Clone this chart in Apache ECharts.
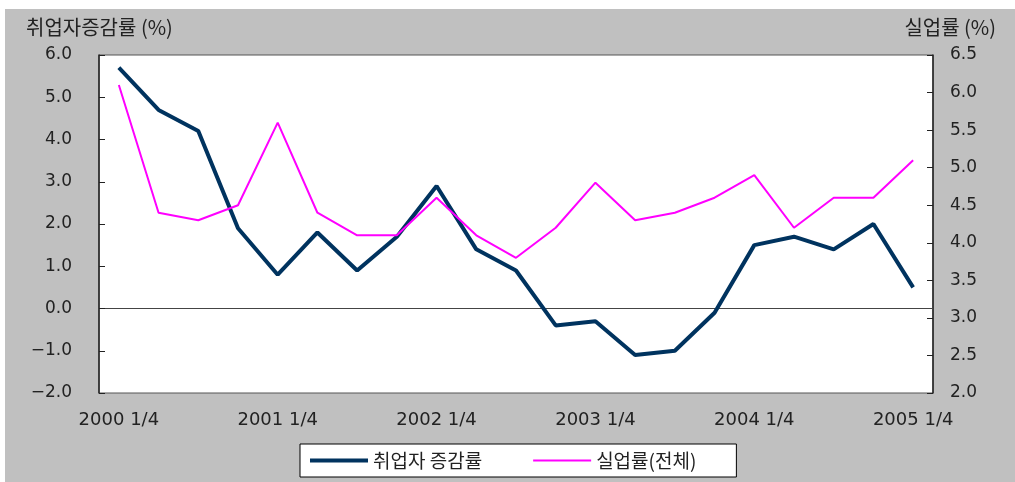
<!DOCTYPE html>
<html>
<head>
<meta charset="utf-8">
<script src="https://cdn.jsdelivr.net/npm/echarts@6/dist/echarts.min.js"></script>
<style>
html,body{margin:0;padding:0;background:#fff;}
#c{position:absolute;left:5px;top:9px;width:1010px;height:473px;}
</style>
</head>
<body>
<div id="c"></div>
<script>
const categories = [
  '2000 1/4','2000 2/4','2000 3/4','2000 4/4',
  '2001 1/4','2001 2/4','2001 3/4','2001 4/4',
  '2002 1/4','2002 2/4','2002 3/4','2002 4/4',
  '2003 1/4','2003 2/4','2003 3/4','2003 4/4',
  '2004 1/4','2004 2/4','2004 3/4','2004 4/4',
  '2005 1/4'
];
const employmentGrowth = [5.7, 4.7, 4.2, 1.9, 0.8, 1.8, 0.9, 1.7, 2.9, 1.4, 0.9, -0.4, -0.3, -1.1, -1.0, -0.1, 1.5, 1.7, 1.4, 2.0, 0.5];
const unemploymentRate = [6.1, 4.4, 4.3, 4.5, 5.6, 4.4, 4.1, 4.1, 4.6, 4.1, 3.8, 4.2, 4.8, 4.3, 4.4, 4.6, 4.9, 4.2, 4.6, 4.6, 5.1];
const seriesNames = ['취업자 증감률', '실업률(전체)'];
const leftTitle = '취업자증감률 (%)';
const rightTitle = '실업률 (%)';

const chart = echarts.init(document.getElementById('c'));
const numFont = '"DejaVu Sans", sans-serif';
const krFont = '"Noto Sans CJK KR", sans-serif';
const fmt = v => (v < 0 ? '\u2212' + Math.abs(v).toFixed(1) : v.toFixed(1));
const navy = '#00335f';
const magenta = '#ff00ff';

chart.setOption({
  backgroundColor: '#c0c0c0',
  animation: false,
  title: [
    {text: leftTitle, left: 16, top: 3, textStyle: {fontFamily: krFont, fontSize: 20, fontWeight: 'normal', color: '#222'}},
    {text: rightTitle, right: 14, top: 3, textStyle: {fontFamily: krFont, fontSize: 20, fontWeight: 'normal', color: '#222'}}
  ],
  grid: {left: 94, top: 46, width: 834, height: 338, show: true, backgroundColor: '#fff', borderColor: '#555', borderWidth: 1},
  legend: {
    left: 295, top: 435,
    backgroundColor: '#fff', borderColor: '#000', borderWidth: 1,
    padding: [7, 40, 7, 8],
    itemWidth: 58, itemHeight: 14, itemGap: 50,
    itemStyle: {opacity: 0},
    textStyle: {fontFamily: krFont, fontSize: 19, color: '#222'},
    data: [
      {name: seriesNames[0], lineStyle: {width: 4, color: navy}},
      {name: seriesNames[1], lineStyle: {width: 2, color: magenta}}
    ]
  },
  xAxis: [
    {
      type: 'category', data: categories, boundaryGap: true,
      axisLine: {onZero: true, onZeroAxisIndex: 0, lineStyle: {color: '#444', width: 1}},
      axisTick: {inside: true, length: 6, interval: 0, lineStyle: {color: '#444'}},
      axisLabel: {show: false},
      splitLine: {show: false}
    },
    {
      type: 'category', data: categories, boundaryGap: true, position: 'bottom',
      axisLine: {show: false, onZero: false},
      axisTick: {show: false},
      axisLabel: {interval: 3, margin: 18, fontFamily: numFont, fontSize: 18, color: '#222'},
      splitLine: {show: false}
    }
  ],
  yAxis: [
    {
      type: 'value', min: -2, max: 6, interval: 1, position: 'left',
      axisLine: {show: true, onZero: false, lineStyle: {color: '#222', width: 1.5}},
      axisTick: {show: true, inside: true, length: 6, lineStyle: {color: '#222'}},
      axisLabel: {formatter: fmt, margin: 27, fontFamily: numFont, fontSize: 17, color: '#222'},
      splitLine: {show: false}
    },
    {
      type: 'value', min: 2, max: 6.5, interval: 0.5, position: 'right',
      axisLine: {show: true, onZero: false, lineStyle: {color: '#222', width: 1.5}},
      axisTick: {show: true, inside: true, length: 6, lineStyle: {color: '#222'}},
      axisLabel: {formatter: fmt, margin: 17, fontFamily: numFont, fontSize: 17, color: '#222'},
      splitLine: {show: false}
    }
  ],
  series: [
    {
      name: seriesNames[0], type: 'line', data: employmentGrowth,
      xAxisIndex: 0, yAxisIndex: 0, symbol: 'none',
      lineStyle: {color: navy, width: 4},
      itemStyle: {color: navy}
    },
    {
      name: seriesNames[1], type: 'line', data: unemploymentRate,
      xAxisIndex: 0, yAxisIndex: 1, symbol: 'none',
      lineStyle: {color: magenta, width: 2},
      itemStyle: {color: magenta}
    }
  ]
});
</script>
</body>
</html>
